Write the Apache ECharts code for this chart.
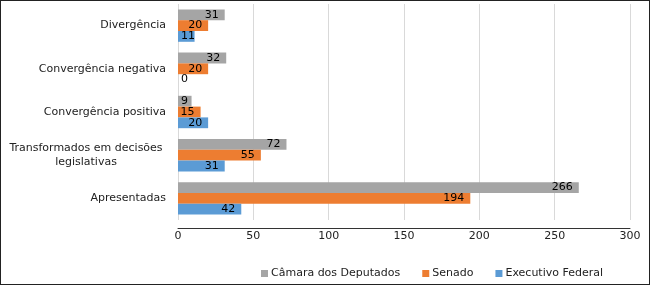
<!DOCTYPE html>
<html>
<head>
<meta charset="utf-8">
<script src="https://cdn.jsdelivr.net/npm/echarts@6/dist/echarts.min.js"></script>
<style>
  html, body { margin: 0; padding: 0; background: #fff; }
  #chart { width: 650px; height: 285px; position: absolute; left: 0; top: 0; }
  #frame { position: absolute; left: 0; top: 0; width: 650px; height: 285px;
           box-sizing: border-box; border: 1px solid #222; pointer-events: none; }
</style>
</head>
<body>
<div id="chart"></div>
<div id="frame"></div>
<script>
// categories bottom -> top
const categories = [
  'Apresentadas',
  'Transformados em decisões legislativas',
  'Convergência positiva',
  'Convergência negativa',
  'Divergência'
];
const executivo = [42, 31, 20, 0, 11];
const senado = [194, 55, 15, 20, 20];
const camara = [266, 72, 9, 32, 31];
const xTicks = [0, 50, 100, 150, 200, 250, 300];

const FONT = 'DejaVu Sans';

// short bars can't hold their label inside the end, put it at the start instead
function items(values) {
  return values.map(v => {
    if (v < 12) {
      return { value: v, label: { position: 'insideLeft', distance: 3 } };
    }
    return v;
  });
}

function bar(name, values, color) {
  return {
    type: 'bar',
    name: name,
    data: items(values),
    barGap: '0%',
    barCategoryGap: '25%',
    itemStyle: { color: color },
    label: {
      show: true,
      position: 'insideRight',
      distance: 6,
      color: '#000',
      fontFamily: FONT,
      fontSize: 11
    }
  };
}

const myChart = echarts.init(document.getElementById('chart'));

const option = {
  animation: false,
  textStyle: { fontFamily: FONT },
  grid: {
    left: 178,
    right: 20,
    top: 4,
    bottom: 65
  },
  legend: {
    data: ['Câmara dos Deputados', 'Senado', 'Executivo Federal'],
    left: 256,
    top: 263,
    icon: 'rect',
    itemWidth: 7,
    itemHeight: 7,
    itemGap: 22,
    textStyle: { fontFamily: FONT, fontSize: 11, color: '#222', padding: [0, 0, 0, -2] }
  },
  xAxis: {
    type: 'value',
    min: 0,
    max: xTicks[xTicks.length - 1],
    interval: xTicks[1] - xTicks[0],
    offset: 8,
    axisLine: { show: true, lineStyle: { color: '#333', width: 1 } },
    axisTick: { show: false },
    axisLabel: { color: '#222', fontFamily: FONT, fontSize: 11, margin: 3 },
    splitLine: { show: true, lineStyle: { color: '#d9d9d9' } }
  },
  yAxis: {
    type: 'category',
    data: categories,
    axisLine: { show: false },
    axisTick: { show: false },
    axisLabel: {
      color: '#222',
      fontFamily: FONT,
      fontSize: 11,
      margin: 12,
      formatter: value => {
        if (value.length > 25) {
          const cut = value.lastIndexOf(' ', 26);
          return `{c|${value.slice(0, cut)}}\n{c|${value.slice(cut + 1)}}`;
        }
        return value;
      },
      rich: {
        c: { width: 160, align: 'center', fontFamily: FONT, fontSize: 11, color: '#222', lineHeight: 14 }
      }
    }
  },
  // first series sits on top of each group
  series: [
    bar('Câmara dos Deputados', camara, '#a5a5a5'),
    bar('Senado', senado, '#ed7d31'),
    bar('Executivo Federal', executivo, '#5b9bd5')
  ]
};

myChart.setOption(option);
</script>
</body>
</html>
